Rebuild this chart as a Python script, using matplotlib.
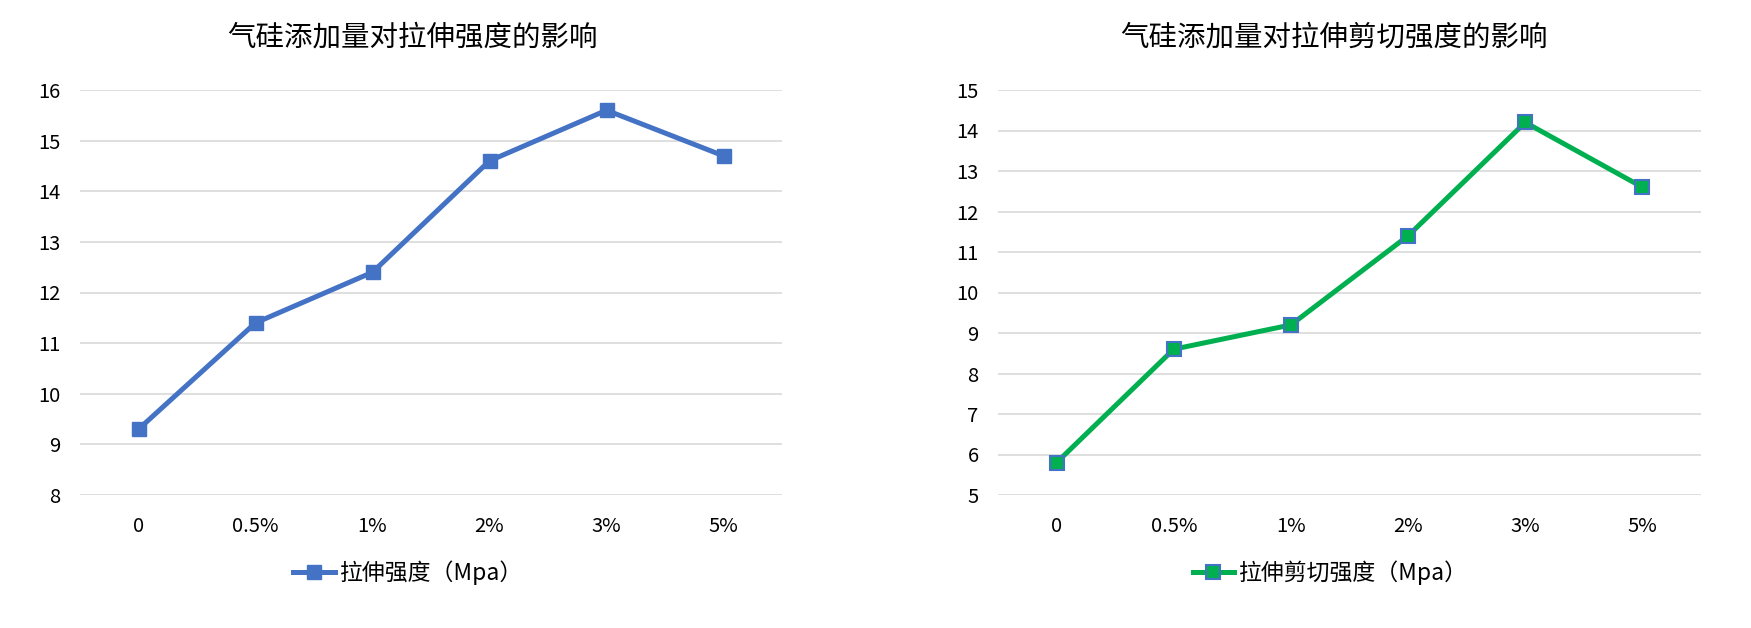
import matplotlib
matplotlib.use("Agg")
import matplotlib.pyplot as plt

plt.rcParams['font.family'] = ['Noto Sans CJK SC', 'DejaVu Sans']

categories = ['0', '0.5%', '1%', '2%', '3%', '5%']
tensile = [9.3, 11.4, 12.4, 14.6, 15.6, 14.7]
shear = [5.8, 8.6, 9.2, 11.4, 14.2, 12.6]

W, H = 1751, 628
fig = plt.figure(figsize=(W / 100, H / 100), dpi=100)


def px_axes(x0, x1, y0, y1):
    return fig.add_axes([x0 / W, 1 - y1 / H, (x1 - x0) / W, (y1 - y0) / H])


def style(ax, ymin, ymax):
    ax.set_xlim(-0.5, len(categories) - 0.5)
    ax.set_ylim(ymin, ymax)
    ax.set_yticks(range(ymin, ymax + 1))
    ax.set_xticks(range(len(categories)))
    ax.set_xticklabels(categories)
    ax.grid(axis='y', color='#D9D9D9', linewidth=1.2)
    ax.set_axisbelow(True)
    for s in ax.spines.values():
        s.set_visible(False)
    ax.tick_params(length=0, labelsize=14.5, colors='black')
    ax.tick_params(axis='x', pad=15)
    ax.tick_params(axis='y', pad=14)


# left chart
ax1 = px_axes(80, 782, 90, 495)
x = range(len(categories))
ax1.plot(x, tensile, color='#4472C4', linewidth=3.6, marker='s', markersize=9.5,
         markerfacecolor='#4472C4', markeredgecolor='#4472C4', label='拉伸强度（Mpa）',
         clip_on=False)
style(ax1, 8, 16)
fig.text(412 / W, 1 - 38 / H, '气硅添加量对拉伸强度的影响', ha='center', va='center',
         fontsize=20.5, color='black', fontweight='medium')
ax1.legend(loc='center', bbox_to_anchor=(408 / W, 1 - 573 / H), bbox_transform=fig.transFigure,
           frameon=False, fontsize=16.5, handlelength=1.8, handletextpad=0.2)

# right chart
ax2 = px_axes(998, 1701, 90, 495)
ax2.plot(x, shear, color='#00B050', linewidth=3.6, marker='s', markersize=9.5,
         markerfacecolor='#00B050', markeredgecolor='#4472C4', markeredgewidth=1.5,
         label='拉伸剪切强度（Mpa）', clip_on=False)
style(ax2, 5, 15)
fig.text(1334 / W, 1 - 38 / H, '气硅添加量对拉伸剪切强度的影响', ha='center', va='center',
         fontsize=20.5, color='black', fontweight='medium')
ax2.legend(loc='center', bbox_to_anchor=(1330 / W, 1 - 573 / H), bbox_transform=fig.transFigure,
           frameon=False, fontsize=16.5, handlelength=1.8, handletextpad=0.2)

fig.savefig('out.png', dpi=100, facecolor='white')
